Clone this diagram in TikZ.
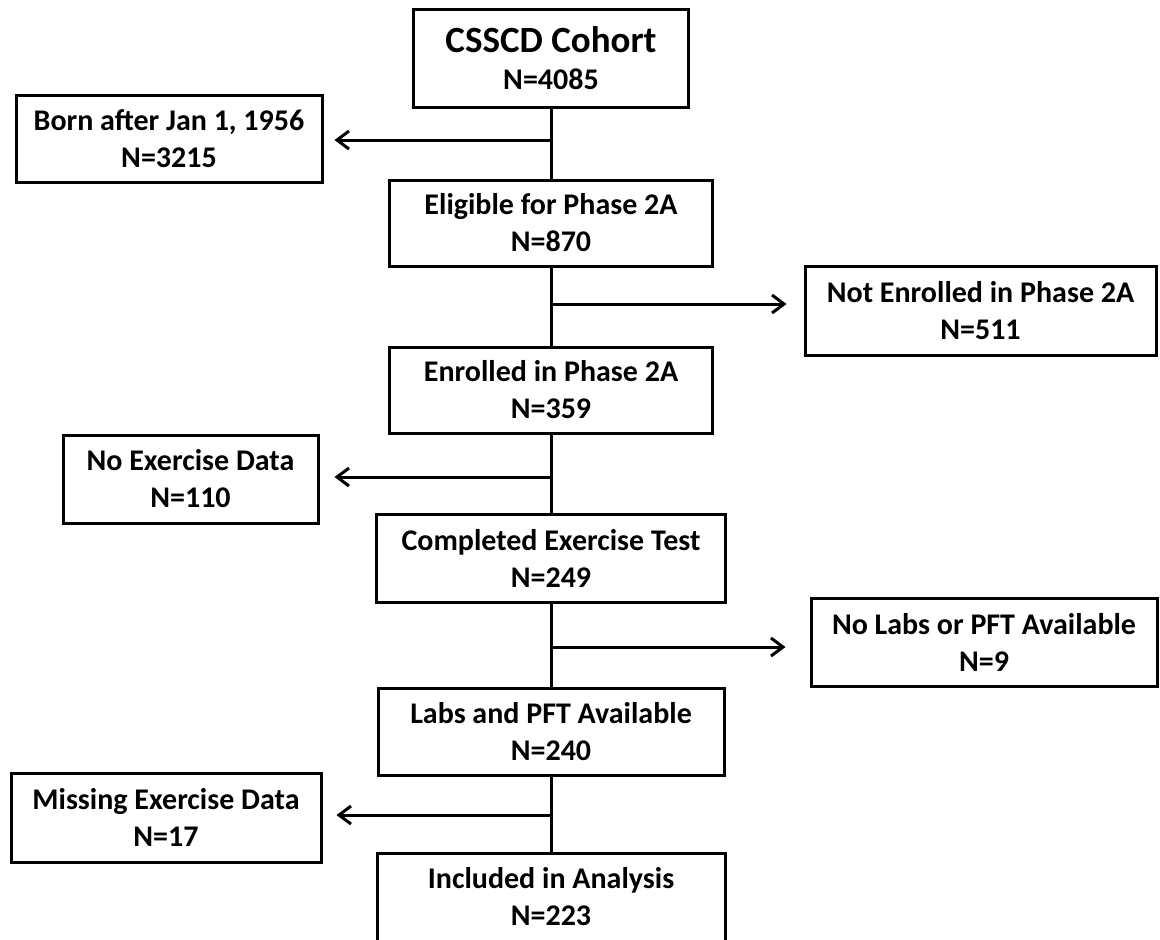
\documentclass[tikz,border=0pt]{standalone}
\usepackage{fontspec}
\setmainfont{Carlito}
\usetikzlibrary{arrows.meta}
\def\nsize{\fontsize{30}{37}\selectfont}

\begin{document}
\begin{tikzpicture}[x=1pt, y=-1pt,
  box/.style={draw, line width=3pt, align=center, inner sep=0pt, font=\nsize\bfseries},
  link/.style={line width=3pt},
  arr/.style={line width=3pt, -{Straight Barb[length=12pt, width=18pt]}}]
\useasboundingbox (0,0) rectangle (1160,940);

\node[box, minimum width=275pt, minimum height=98pt] (cohort) at (551,58) {{\fontsize{37}{40}\selectfont CSSCD Cohort}\\N=4085};
\node[box, minimum width=306pt, minimum height=87pt] (born) at (169,138.5) {Born after Jan 1, 1956\\N=3215};
\node[box, minimum width=323pt, minimum height=86pt] (elig) at (551,223) {Eligible for Phase 2A\\N=870};
\node[box, minimum width=351pt, minimum height=89pt] (notenr) at (980.5,310.5) {Not Enrolled in Phase 2A\\N=511};
\node[box, minimum width=323pt, minimum height=86pt] (enr) at (551,390) {Enrolled in Phase 2A\\N=359};
\node[box, minimum width=255pt, minimum height=88pt] (noex) at (190.5,479) {No Exercise Data\\N=110};
\node[box, minimum width=349pt, minimum height=88pt] (compl) at (551,558) {Completed Exercise Test\\N=249};
\node[box, minimum width=346pt, minimum height=88pt] (nolabs) at (984,642) {No Labs or PFT Available\\N=9};
\node[box, minimum width=346pt, minimum height=87pt] (labs) at (551,731.5) {Labs and PFT Available\\N=240};
\node[box, minimum width=310pt, minimum height=89pt] (missing) at (166,817.5) {Missing Exercise Data\\N=17};
\node[box, minimum width=348pt, minimum height=88pt] (incl) at (551,897) {Included in Analysis\\N=223};

\draw[link] (cohort) -- (elig);
\draw[link] (elig) -- (enr);
\draw[link] (enr) -- (compl);
\draw[link] (compl) -- (labs);
\draw[link] (labs) -- (incl);

\coordinate (b1) at (551,140);
\coordinate (b2) at (551,304);
\coordinate (b3) at (551,477);
\coordinate (b4) at (551,647);
\coordinate (b5) at (551,815);

\draw[arr, shorten >=11pt] (b1) -- (b1 -| born.east);
\draw[arr, shorten >=17pt] (b2) -- (b2 -| notenr.west);
\draw[arr, shorten >=15pt] (b3) -- (b3 -| noex.east);
\draw[arr, shorten >=24pt] (b4) -- (b4 -| nolabs.west);
\draw[arr, shorten >=14pt] (b5) -- (b5 -| missing.east);
\end{tikzpicture}
\end{document}
